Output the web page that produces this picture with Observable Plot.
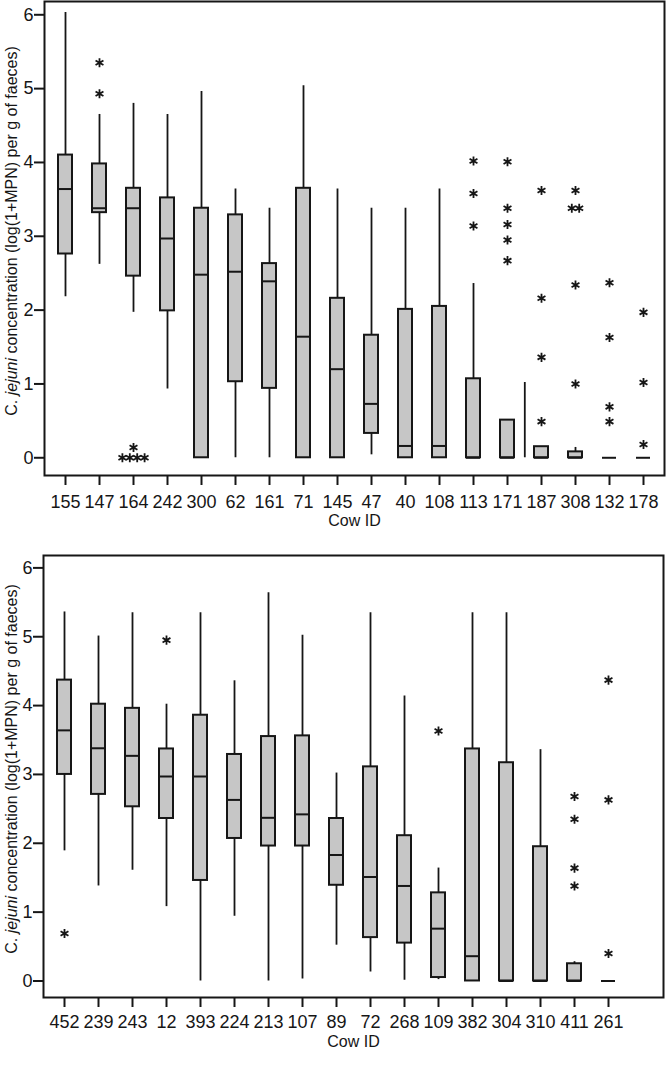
<!DOCTYPE html>
<html><head><meta charset="utf-8">
<script src="https://cdn.jsdelivr.net/npm/d3@7"></script>
<script src="https://cdn.jsdelivr.net/npm/@observablehq/plot@0.6"></script>
<style>
body{margin:0;background:#fff;}
#chart svg{display:block;}
</style></head><body><div id="chart"></div>
<script>
// ---------- Panel A (top) ----------
const idsA        = ["155","147","164","242","300","62","161","71","145","47","40","108","113","171","187","308","132","178"];
const whiskerLowA = [2.18, 2.62, 1.97, 0.93, 0,    0,    0,    0,    0,    0.04, 0,    0,    0,    0,    0,    0,    0, 0];
const q1A         = [2.76, 3.32, 2.46, 1.99, 0,    1.03, 0.94, 0,    0,    0.33, 0,    0,    0,    0,    0,    0,    0, 0];
const medianA     = [3.64, 3.38, 3.38, 2.97, 2.48, 2.52, 2.39, 1.64, 1.20, 0.73, 0.16, 0.16, 0,    0,    0,    0,    0, 0];
const q3A         = [4.10, 3.98, 3.65, 3.52, 3.38, 3.29, 2.63, 3.65, 2.16, 1.66, 2.01, 2.05, 1.07, 0.51, 0.15, 0.08, 0, 0];
const whiskerHighA= [6.03, 4.65, 4.80, 4.65, 4.96, 3.64, 3.38, 5.04, 3.64, 3.38, 3.38, 3.64, 2.36, 0.51, 0.15, 0.14, 0, 0];
const outlierIdsA    = ["147","147","164","164","164","164","164","113","113","113","171","171","171","171","171","187","187","187","187","308","308","308","308","308","132","132","132","132","178","178","178"];
const outlierValuesA = [5.35, 4.93, 0.14, 0, 0, 0, 0, 4.02, 3.58, 3.14, 4.01, 3.38, 3.16, 2.95, 2.67, 3.62, 2.16, 1.36, 0.49, 3.62, 3.38, 3.38, 2.34, 1.00, 2.37, 1.63, 0.69, 0.49, 1.97, 1.02, 0.18];
const strayWhiskerIdsA  = ["171"];
const strayWhiskerLowA  = [0];
const strayWhiskerHighA = [1.02];

// ---------- Panel B (bottom) ----------
const idsB        = ["452","239","243","12","393","224","213","107","89","72","268","109","382","304","310","411","261"];
const whiskerLowB = [1.89, 1.38, 1.61, 1.08, 0,    0.94, 0,    0.03, 0.52, 0.13, 0.01, 0.02, 0,    0,    0,    0,    0];
const q1B         = [3.00, 2.71, 2.53, 2.36, 1.46, 2.07, 1.96, 1.96, 1.39, 0.63, 0.55, 0.05, 0,    0,    0,    0,    0];
const medianB     = [3.64, 3.38, 3.27, 2.97, 2.97, 2.63, 2.37, 2.42, 1.83, 1.51, 1.38, 0.76, 0.36, 0,    0,    0,    0];
const q3B         = [4.37, 4.02, 3.96, 3.37, 3.86, 3.29, 3.55, 3.56, 2.36, 3.11, 2.11, 1.28, 3.37, 3.17, 1.95, 0.25, 0];
const whiskerHighB= [5.36, 5.01, 5.35, 4.02, 5.35, 4.36, 5.64, 5.02, 3.02, 5.35, 4.14, 1.64, 5.35, 5.35, 3.36, 0.28, 0];
const outlierIdsB    = ["452","12","109","411","411","411","411","261","261","261"];
const outlierValuesB = [0.69, 4.95, 3.63, 2.68, 2.35, 1.64, 1.38, 4.37, 2.63, 0.40];

const yTicks = [0, 1, 2, 3, 4, 5, 6];
const xTitle = "Cow ID";
const yTitleParts = [["C. ", "normal"], ["jejuni", "italic"], [" concentration (log(1+MPN) per g of faeces)", "normal"]];

const INK = "#161616", FILL = "#c6c6c6";
const FONT = "'Liberation Sans', Arial, Helvetica, sans-serif";
const W = 666, SLOTS = 18, PI = 0.6, PO = 0.26;

function panel(o) {
  const boxes = o.ids.map((id, i) => ({id, lo: o.wl[i], q1: o.q1[i], med: o.med[i], q3: o.q3[i], hi: o.wh[i]}));
  const outs = o.outIds.map((id, i) => ({id, v: o.outVals[i]}));
  // side-by-side placement of coincident outliers
  const groups = d3.group(outs, d => d.id + "|" + d.v);
  for (const g of groups.values()) g.forEach((d, k) => d.off = (k - (g.length - 1) / 2) * 7.4);
  const offsets = Array.from(new Set(outs.map(d => d.off)));
  const plotW = W - o.ml - o.mr;
  const step = plotW / (SLOTS - PI + 2 * PO);
  const inset = (SLOTS - o.ids.length) * step;
  const stray = (o.strayIds || []).map((id, i) => ({id, lo: o.strayLo[i], hi: o.strayHi[i]}));

  const marks = [
    Plot.ruleX(boxes, {x: "id", y1: "lo", y2: "hi", stroke: INK, strokeWidth: 1.8}),
    Plot.barY(boxes, {x: "id", y1: "q1", y2: "q3", fill: FILL, stroke: INK, strokeWidth: 2}),
    Plot.tickY(boxes, {x: "id", y: "med", stroke: INK, strokeWidth: 2}),
    Plot.ruleX(stray, {x: "id", y1: "lo", y2: "hi", stroke: INK, strokeWidth: 1.8, dx: step / 2}),
    ...offsets.map(off => Plot.dot(outs.filter(d => d.off === off), {x: "id", y: "v", symbol: "asterisk", r: 4.3, stroke: INK, strokeWidth: 1.8, dx: off})),
    Plot.frame({stroke: INK, strokeWidth: 2}),
    Plot.axisY({ticks: yTicks, tickFormat: d3.format("d"), tickSize: 10, tickPadding: 1, strokeWidth: 2, stroke: INK, fill: INK, fontSize: 18, label: null}),
    Plot.axisX({tickSize: 10, tickPadding: o.xPad, strokeWidth: 2, stroke: INK, fill: INK, fontSize: 18, label: null}),
    Plot.text([xTitle], {text: d => d, frameAnchor: "bottom", dy: o.xTitleDy, lineAnchor: "middle", fontSize: 16, fill: INK})
  ];

  const svg = Plot.plot({
    width: W, height: o.height,
    marginTop: o.mt, marginBottom: o.mb, marginLeft: o.ml, marginRight: o.mr,
    style: {fontFamily: FONT, fontSize: "18px", background: "#fff", color: INK},
    x: {type: "band", domain: o.ids, paddingInner: PI, paddingOuter: PO, insetRight: inset, axis: null},
    y: {domain: [-0.24, 6.18], axis: null},
    marks
  });
  const frameMid = o.mt + (o.height - o.mt - o.mb) / 2 - 7;
  const t = d3.select(svg).append("text")
    .attr("transform", `translate(16.5,${frameMid}) rotate(-90)`)
    .attr("text-anchor", "middle").attr("font-size", 16).attr("fill", INK)
    .attr("font-family", FONT);
  for (const [s, st] of yTitleParts) t.append("tspan").attr("font-style", st).text(s);
  return svg;
}

const root = document.getElementById("chart");
root.append(panel({
  ids: idsA, wl: whiskerLowA, q1: q1A, med: medianA, q3: q3A, wh: whiskerHighA,
  outIds: outlierIdsA, outVals: outlierValuesA,
  strayIds: strayWhiskerIdsA, strayLo: strayWhiskerLowA, strayHi: strayWhiskerHighA,
  height: 535, mt: 1, mb: 60, ml: 44, mr: 2, xTitleDy: 45, xPad: 10
}));
root.append(panel({
  ids: idsB, wl: whiskerLowB, q1: q1B, med: medianB, q3: q3B, wh: whiskerHighB,
  outIds: outlierIdsB, outVals: outlierValuesB,
  height: 547, mt: 20, mb: 85, ml: 43, mr: 3, xTitleDy: 44, xPad: 8
}));
</script></body></html>
